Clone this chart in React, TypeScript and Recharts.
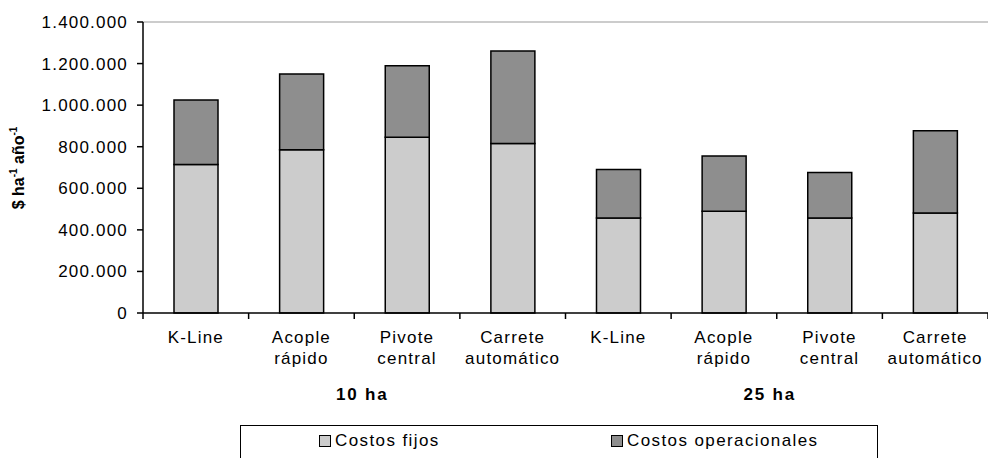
import React from 'react';
import {
  BarChart,
  Bar,
  XAxis,
  YAxis,
  ReferenceLine,
  Legend,
} from 'recharts';

const GROUPS = ['10 ha', '25 ha'];
const SYSTEMS = ['K-Line', 'Acople rápido', 'Pivote central', 'Carrete automático'];
const FIXED_COSTS = [715000, 785000, 845000, 815000, 457000, 489000, 457000, 481000];
const OPERATIONAL_COSTS = [310000, 365000, 345000, 445000, 233000, 266000, 219000, 396000];
const Y_TICKS = [0, 200000, 400000, 600000, 800000, 1000000, 1200000, 1400000];

const SERIES = [
  { key: 'fijos', label: 'Costos fijos', color: '#CCCCCC' },
  { key: 'operacionales', label: 'Costos operacionales', color: '#8E8E8E' },
];

const WIDTH = 988;
const HEIGHT = 458;
const Y_AXIS_WIDTH = 143;
const FONT = '"Liberation Sans", Arial, sans-serif';

// one row per group x system
const data = GROUPS.flatMap((g, gi) =>
  SYSTEMS.map((s, si) => {
    const i = gi * SYSTEMS.length + si;
    return {
      id: `${g}-${s}`,
      system: s,
      fijos: FIXED_COSTS[i],
      operacionales: OPERATIONAL_COSTS[i],
    };
  })
);

const BAND = (WIDTH - Y_AXIS_WIDTH) / data.length;
// small nudges so the group titles sit where the original has them
const GROUP_SHIFT = [8, -7];

// 1400000 -> "1.400.000"
const formatThousands = (v: number) =>
  String(v).replace(/\B(?=(\d{3})+(?!\d))/g, '.');

const XTick = (props: any) => {
  const { x, y, index } = props;
  const row = data[index];
  if (!row) return null;
  const words = row.system.split(' ');
  const isLast = index === data.length - 1;
  const groupIdx = Math.floor(index / SYSTEMS.length);
  const showGroup = index % SYSTEMS.length === SYSTEMS.length / 2 - 1;
  return (
    <g>
      <line x1={x - BAND / 2} x2={x - BAND / 2} y1={y} y2={y + 6} stroke="#000" strokeWidth={1.5} />
      {isLast && (
        <line x1={x + BAND / 2} x2={x + BAND / 2} y1={y} y2={y + 6} stroke="#000" strokeWidth={1.5} />
      )}
      {words.map((w: string, i: number) => (
        <text
          key={i}
          x={x}
          y={y + 30 + i * 21}
          textAnchor="middle"
          fontSize={17}
          letterSpacing={1.2}
          fontFamily={FONT}
          fill="#000"
        >
          {w}
        </text>
      ))}
      {showGroup && (
        <text
          x={x + BAND / 2 + GROUP_SHIFT[groupIdx]}
          y={y + 87}
          textAnchor="middle"
          fontSize={17}
          fontWeight="bold"
          letterSpacing={1.8}
          fontFamily={FONT}
          fill="#000"
        >
          {GROUPS[groupIdx]}
        </text>
      )}
    </g>
  );
};

const YLabel = () => (
  <text
    x={24}
    y={168}
    transform="rotate(-90 24 168)"
    textAnchor="middle"
    fontSize={16}
    fontWeight="bold"
    fontFamily={FONT}
    fill="#000"
  >
    <tspan>$ ha</tspan>
    <tspan fontSize={10} dy={-7}>-1</tspan>
    <tspan dy={7}> año</tspan>
    <tspan fontSize={10} dy={-7}>-1</tspan>
  </text>
);

const LegendBox = () => (
  <div
    style={{
      position: 'relative',
      width: 638,
      height: 50,
      border: '1px solid #000',
      boxSizing: 'border-box',
      background: '#fff',
      fontFamily: FONT,
      fontSize: 17,
      letterSpacing: 1.4,
    }}
  >
    {SERIES.map((s, i) => (
      <div
        key={s.key}
        style={{
          position: 'absolute',
          left: i === 0 ? 78 : 370,
          top: 5,
          display: 'flex',
          alignItems: 'center',
          whiteSpace: 'nowrap',
        }}
      >
        <span
          style={{
            display: 'inline-block',
            width: 10,
            height: 10,
            border: '1px solid #000',
            background: s.color,
            marginRight: 4,
          }}
        />
        <span>{s.label}</span>
      </div>
    ))}
  </div>
);

export default function App() {
  return (
    <div style={{ width: WIDTH, height: HEIGHT, background: '#fff', overflow: 'hidden' }}>
      <style>{'body{margin:0}'}</style>
      <BarChart
        width={WIDTH}
        height={HEIGHT}
        data={data}
        margin={{ top: 22, right: 0, bottom: 0, left: 0 }}
      >
        <ReferenceLine y={1400000} stroke="#999" strokeWidth={1} />
        <XAxis
          dataKey="id"
          height={145}
          interval={0}
          tick={<XTick />}
          tickLine={false}
          tickSize={0}
          tickMargin={0}
          axisLine={{ stroke: '#000', strokeWidth: 1.5 }}
        />
        <YAxis
          width={Y_AXIS_WIDTH}
          domain={[0, 1400000]}
          ticks={Y_TICKS}
          interval={0}
          tickFormatter={formatThousands}
          tickSize={6}
          tickMargin={9}
          tick={{ fill: '#000', fontSize: 17, fontFamily: FONT, letterSpacing: 1.2 }}
          tickLine={{ stroke: '#000', strokeWidth: 1.5 }}
          axisLine={{ stroke: '#000', strokeWidth: 1.5 }}
          label={<YLabel />}
        />
        {SERIES.map((s) => (
          <Bar
            key={s.key}
            dataKey={s.key}
            name={s.label}
            stackId="costos"
            fill={s.color}
            stroke="#000"
            strokeWidth={1.5}
            barSize={44}
            isAnimationActive={false}
          />
        ))}
        <Legend
          layout="vertical"
          align="center"
          verticalAlign="middle"
          content={<LegendBox />}
          wrapperStyle={{ top: 425, left: 240, width: 638, height: 50 }}
        />
      </BarChart>
    </div>
  );
}
